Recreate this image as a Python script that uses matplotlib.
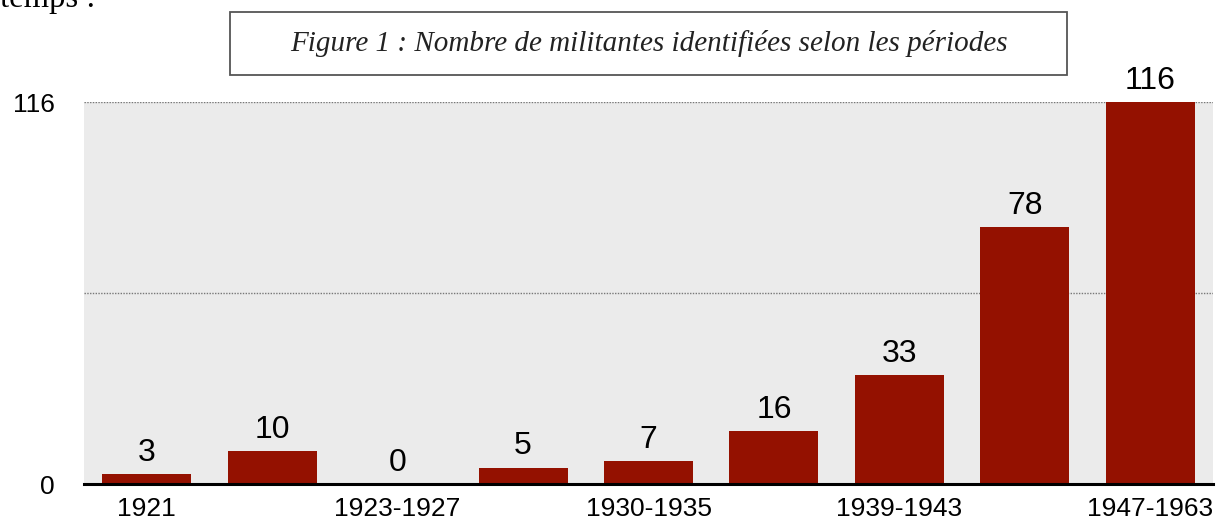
import matplotlib
matplotlib.use("Agg")
import matplotlib.pyplot as plt
from matplotlib.patches import Rectangle

# Data
categories = ["1921", "", "1923-1927", "", "1930-1935", "", "1939-1943", "", "1947-1963"]
values = [3, 10, 0, 5, 7, 16, 33, 78, 116]
y_ticks = [0, 116]
grid_levels = [58, 116]
title = "Figure 1 : Nombre de militantes identifiées selon les périodes"

W, H = 1220, 522
fig = plt.figure(figsize=(W / 100, H / 100), dpi=100)
fig.patch.set_facecolor("white")

# plot area: x 84..1213, y 102..484 (pixels from top)
left, right, top, bottom = 84, 1213, 102, 484
ax = fig.add_axes([left / W, 1 - bottom / H, (right - left) / W, (bottom - top) / H])
ax.set_facecolor("#EBEBEB")

x = list(range(len(values)))
ax.bar(x, values, width=0.71, color="#941100", zorder=3)
ax.set_xlim(-0.5, len(values) - 0.5)
ax.set_ylim(0, 116)

for lv in grid_levels:
    ax.axhline(lv, color="#777777", linestyle=(0, (1, 1)), linewidth=1.0, zorder=2)

for xi, v in zip(x, values):
    ax.annotate(str(v), (xi, v), xytext=(0, 4.5), textcoords="offset points",
                ha="center", va="bottom", fontsize=23, family="Liberation Sans",
                color="black", zorder=4)

for s in ["top", "right", "left"]:
    ax.spines[s].set_visible(False)
ax.spines["bottom"].set_linewidth(2.2)
ax.spines["bottom"].set_color("black")
ax.spines["bottom"].set_zorder(5)

ax.set_xticks(x)
ax.set_xticklabels(categories, fontsize=19, family="Liberation Sans")
ax.set_yticks(y_ticks)
ax.set_yticklabels([str(t) for t in y_ticks], fontsize=19, family="Liberation Sans")
ax.tick_params(axis="x", length=0, pad=9.5)
ax.tick_params(axis="y", length=0, pad=21)

# Title box
bx0, by0, bx1, by1 = 230, 12, 1067, 75
fig.patches.append(Rectangle((bx0 / W, 1 - by1 / H), (bx1 - bx0) / W, (by1 - by0) / H,
                             transform=fig.transFigure, facecolor="white",
                             edgecolor="#555555", linewidth=1.3))
fig.text((bx0 + bx1) / 2 / W, 1 - (by0 + by1) / 2 / H, title, ha="center", va="center",
         fontsize=21, style="italic", family="Liberation Serif", color="#222222")

# cut-off text from preceding paragraph
fig.text(0 / W, 1 - 7 / H, "temps :", ha="left", va="baseline", fontsize=23.5,
         family="Liberation Serif", color="black")

fig.savefig("out.png", dpi=100)
